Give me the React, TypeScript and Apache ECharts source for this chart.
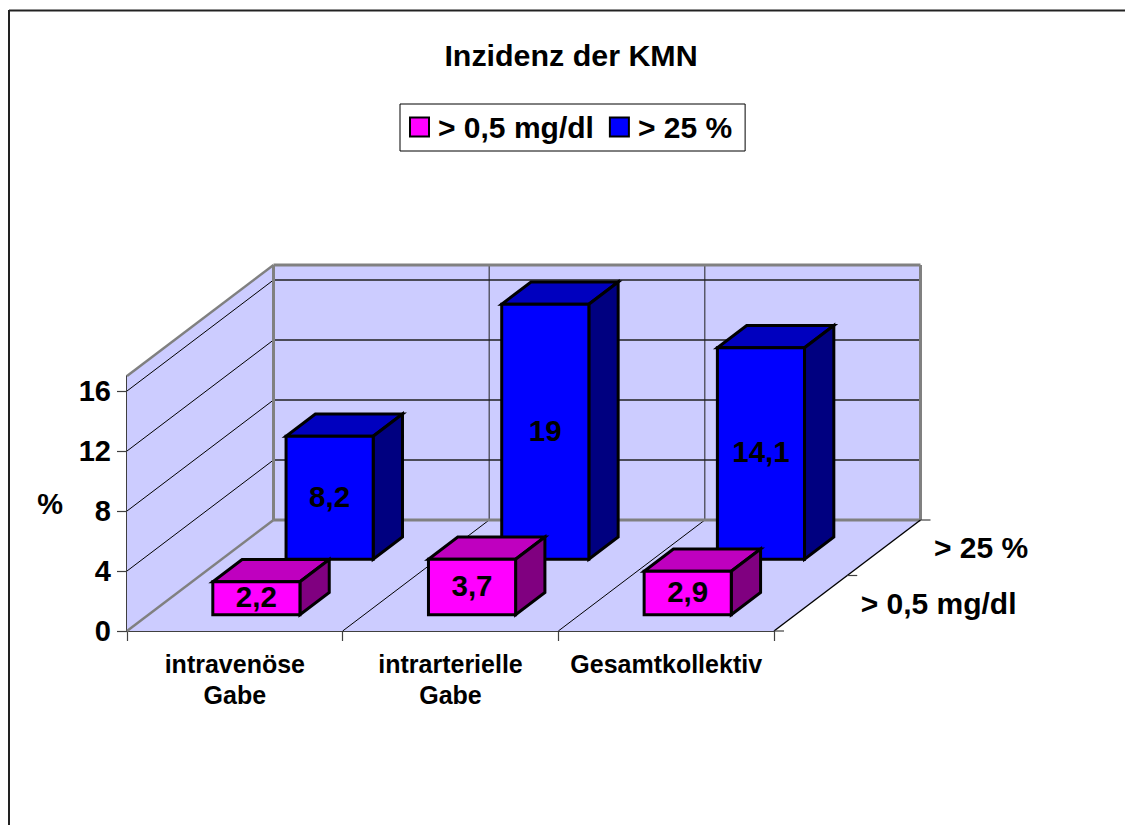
import React, { useEffect, useRef } from "react";
import * as echarts from "echarts";

const chartTitle = "Inzidenz der KMN";
const categories = ["intravenöse\nGabe", "intrarterielle\nGabe", "Gesamtkollektiv"];
const seriesNames = ["> 0,5 mg/dl", "> 25 %"];
const valuesMgDl = [2.2, 3.7, 2.9];
const valuesPercent = [8.2, 19, 14.1];
const yTicks = [0, 4, 8, 12, 16];
const axisMax = 17;

const FONT = '"Liberation Sans", Arial, sans-serif';
const DX = 146.5;
const DY = -111;
const BAR_DEPTH = 0.2;
const BAR_START = 0.147;
const BAR_RATIO = 87 / 215.33;
const WALL = "#CCCCFF";
const GREY = "#808080";

const line = (x1: number, y1: number, x2: number, y2: number, stroke: string, lineWidth: number) => ({
  type: "line",
  shape: { x1, y1, x2, y2 },
  style: { stroke, lineWidth },
});
const poly = (points: number[][], fill: string, stroke = "none", lineWidth = 0) => ({
  type: "polygon",
  shape: { points },
  style: { fill, stroke, lineWidth, lineJoin: "miter" },
});

const renderWalls = (_: any, api: any) => {
  const band = api.size([1, 0])[0];
  const [c0, y0] = api.coord([0, 0]);
  const [, yTop] = api.coord([0, axisMax]);
  const xL = c0 - band / 2;
  const xR = xL + band * categories.length;
  const ch: any[] = [];
  ch.push(poly([[xL, y0], [xL + DX, y0 + DY], [xR + DX, y0 + DY], [xR, y0]], WALL));
  ch.push(poly([[xL, y0], [xL + DX, y0 + DY], [xL + DX, yTop + DY], [xL, yTop]], WALL));
  ch.push(poly([[xL + DX, y0 + DY], [xR + DX, y0 + DY], [xR + DX, yTop + DY], [xL + DX, yTop + DY]], WALL));
  yTicks.slice(1).forEach((t) => {
    const [, y] = api.coord([0, t]);
    ch.push(line(xL, y, xL + DX, y + DY, "#000", 1));
    ch.push(line(xL + DX, y + DY, xR + DX, y + DY, "#202020", 1.4));
  });
  for (let i = 1; i < categories.length; i++) {
    const x = xL + band * i;
    ch.push(line(x, y0, x + DX, y0 + DY, "#000", 1));
    ch.push(line(x + DX, y0 + DY, x + DX, yTop + DY, "#202020", 1));
  }
  // grey wall outlines
  ch.push(line(xL, y0, xL + DX, y0 + DY, GREY, 2.5));
  ch.push(line(xL, yTop, xL + DX, yTop + DY, GREY, 2.5));
  ch.push(line(xL + DX, y0 + DY, xL + DX, yTop + DY, GREY, 3));
  ch.push(line(xL + DX, yTop + DY, xR + DX, yTop + DY, GREY, 3));
  ch.push(line(xR + DX, yTop + DY, xR + DX, y0 + DY, GREY, 3));
  ch.push(line(xL + DX, y0 + DY, xR + DX, y0 + DY, GREY, 3));
  ch.push(line(xR, y0, xR + DX, y0 + DY, "#000", 1.4));
  // depth axis ticks and labels
  for (let i = 0; i <= seriesNames.length; i++) {
    const f = i / seriesNames.length;
    ch.push(line(xR + DX * f, y0 + DY * f, xR + DX * f + 10, y0 + DY * f, "#404040", 1.2));
  }
  seriesNames.forEach((name, i) => {
    const f = (i + 0.5) / seriesNames.length;
    ch.push({
      type: "text",
      style: {
        text: name,
        x: xR + DX * f + 50,
        y: y0 + DY * f,
        align: "left",
        verticalAlign: "middle",
        font: `bold 30px ${FONT}`,
        fill: "#000",
      },
    });
  });
  return { type: "group", children: ch };
};

const makeBars = (seriesIndex: number, values: number[], front: string, top: string, side: string) => (
  params: any,
  api: any
) => {
  const i = params.dataIndex;
  const v = values[i];
  const band = api.size([1, 0])[0];
  const w = band * BAR_RATIO;
  const [cx, y0] = api.coord([i, 0]);
  const [, y1] = api.coord([i, Math.min(v, axisMax)]);
  const z = seriesIndex / seriesNames.length + BAR_START;
  const ox = DX * z;
  const oy = DY * z;
  const x1 = cx - w / 2 + ox;
  const x2 = x1 + w;
  const b = y0 + oy;
  const t = y1 + oy;
  const dx = DX * BAR_DEPTH;
  const dy = DY * BAR_DEPTH;
  return {
    type: "group",
    children: [
      poly([[x1, t], [x2, t], [x2 + dx, t + dy], [x1 + dx, t + dy]], top, "#000", 3),
      poly([[x2, t], [x2 + dx, t + dy], [x2 + dx, b + dy], [x2, b]], side, "#000", 3),
      poly([[x1, t], [x2, t], [x2, b], [x1, b]], front, "#000", 3),
      {
        type: "text",
        style: {
          text: String(v).replace(".", ","),
          x: (x1 + x2) / 2,
          y: (t + b) / 2 - 1.5,
          align: "center",
          verticalAlign: "middle",
          font: `bold 29.5px ${FONT}`,
          fill: "#000",
        },
      },
    ],
  };
};

export default function App() {
  const ref = useRef<HTMLDivElement>(null);
  useEffect(() => {
    const chart = echarts.init(ref.current!, undefined, { renderer: "svg" });
    chart.setOption({
      animation: false,
      backgroundColor: "#fff",
      title: {
        text: chartTitle,
        left: 566,
        top: 35,
        textAlign: "center",
        textStyle: { fontFamily: FONT, fontSize: 30.4, fontWeight: "bold", color: "#000" },
      },
      legend: {
        left: 400,
        top: 104,
        padding: [8, 13, 9, 9],
        itemGap: 15,
        itemWidth: 19,
        itemHeight: 19,
        borderColor: "#000",
        borderWidth: 1,
        backgroundColor: "#fff",
        selectedMode: false,
        textStyle: { fontFamily: FONT, fontSize: 30, fontWeight: "bold", color: "#000", padding: [0, 0, 0, 4] },
        data: [
          { name: seriesNames[0], icon: "rect", itemStyle: { color: "#FF00FF", borderColor: "#000", borderWidth: 2 } },
          { name: seriesNames[1], icon: "rect", itemStyle: { color: "#0000FF", borderColor: "#000", borderWidth: 2 } },
        ],
      },
      grid: { left: 127, top: 376, width: 647, height: 255, containLabel: false },
      xAxis: {
        type: "category",
        data: categories,
        axisLine: { lineStyle: { color: "#404040", width: 2 } },
        axisTick: { show: true, alignWithLabel: false, length: 10, lineStyle: { color: "#404040", width: 1.2 } },
        axisLabel: {
          interval: 0,
          margin: 17,
          fontFamily: FONT,
          fontSize: 25,
          fontWeight: "bold",
          color: "#000",
          lineHeight: 31,
        },
      },
      yAxis: {
        type: "value",
        min: 0,
        max: axisMax,
        name: "%",
        nameLocation: "middle",
        nameRotate: 0,
        nameGap: 64,
        nameTextStyle: { fontFamily: FONT, fontSize: 29, fontWeight: "bold", color: "#000" },
        splitLine: { show: false },
        axisLine: { show: true, lineStyle: { color: "#404040", width: 2 } },
        axisTick: { show: true, length: 10, customValues: yTicks, lineStyle: { color: "#404040", width: 1.2 } },
        axisLabel: { customValues: yTicks, margin: 16, fontFamily: FONT, fontSize: 29, fontWeight: "bold", color: "#000" },
      },
      series: [
        { type: "custom", name: "walls", silent: true, data: [[0, 0]], renderItem: renderWalls, z: 1 },
        {
          type: "custom",
          name: seriesNames[1],
          silent: true,
          itemStyle: { color: "#0000FF" },
          data: valuesPercent.map((v, i) => [i, v]),
          renderItem: makeBars(1, valuesPercent, "#0000FF", "#0000BF", "#000080"),
          z: 2,
        },
        {
          type: "custom",
          name: seriesNames[0],
          silent: true,
          itemStyle: { color: "#FF00FF" },
          data: valuesMgDl.map((v, i) => [i, v]),
          renderItem: makeBars(0, valuesMgDl, "#FF00FF", "#BF00BF", "#800080"),
          z: 3,
        },
      ],
      graphic: [
        { type: "line", shape: { x1: 9, y1: 10.5, x2: 1125, y2: 10.5 }, style: { stroke: "#222", lineWidth: 2 } },
        { type: "line", shape: { x1: 9, y1: 10, x2: 9, y2: 825 }, style: { stroke: "#222", lineWidth: 2 } },
      ],
    });
    return () => chart.dispose();
  }, []);
  return <div ref={ref} style={{ position: "fixed", left: 0, top: 0, width: 1125, height: 825 }} />;
}
